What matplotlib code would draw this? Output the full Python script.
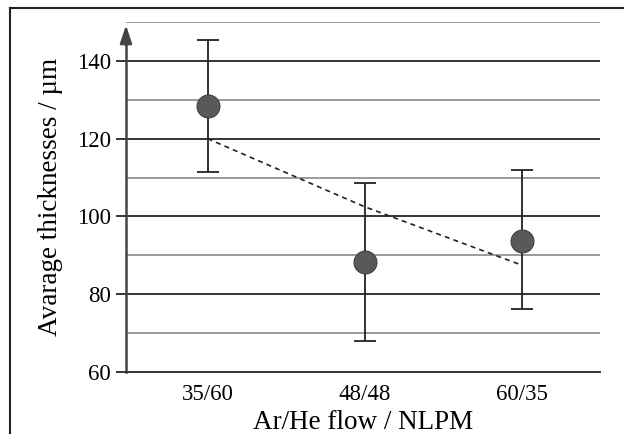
import numpy as np
import matplotlib.pyplot as plt
from matplotlib.lines import Line2D

plt.rcParams['font.family'] = ['Liberation Serif', 'DejaVu Serif']

# data
categories = ['35/60', '48/48', '60/35']
thickness = [128.4, 88.3, 93.7]
err_low = [17.0, 20.3, 17.5]
err_high = [17.0, 20.3, 18.2]
trend = [120.0, 102.5, 87.5]

x = np.arange(len(categories))

fig = plt.figure(figsize=(6.24, 4.34), dpi=100)
ax = fig.add_axes([126 / 624, 1 - 372 / 434, (600 - 126) / 624, (372 - 22) / 434])

ax.set_xlim(-0.52, 2.5)
ax.set_ylim(60, 150)

# grid lines: majors darker, minors lighter
for v in range(70, 151, 10):
    if v % 20 == 0:
        ax.axhline(v, color='#333333', lw=1.4, zorder=1)
    else:
        ax.axhline(v, color='#8a8a8a', lw=1.2, zorder=1)

ax.errorbar(x, thickness, yerr=[err_low, err_high], fmt='none',
            ecolor='#222222', elinewidth=1.3, capsize=8, capthick=1.3, zorder=3)
ax.plot(x, trend, linestyle=(0, (3, 2.5)), color='#222222', lw=1.2, zorder=3)
ax.plot(x, thickness, 'o', ms=16.5, color='#595959', mec='#404040', mew=0.8, zorder=4)

for s in ['top', 'right']:
    ax.spines[s].set_visible(False)
ax.spines['left'].set_color('#444444')
ax.spines['left'].set_linewidth(1.8)
ax.spines['left'].set_bounds(60, 146)
ax.spines['bottom'].set_color('#333333')
ax.spines['bottom'].set_linewidth(1.4)

# arrow on top of y axis
ax.annotate('', xy=(0, 149.2), xycoords=('axes fraction', 'data'), xytext=(0, 144),
            arrowprops=dict(arrowstyle='-|>,head_length=0.6,head_width=0.2',
                            color='#444444', lw=1.8, mutation_scale=18,
                            shrinkA=0, shrinkB=0),
            annotation_clip=False, zorder=5)

ax.set_yticks([60, 80, 100, 120, 140])
ax.tick_params(axis='y', length=7, width=1.4, color='#333333', labelsize=16.5, pad=4)
ax.set_xticks(x)
ax.set_xticklabels(categories)
ax.tick_params(axis='x', length=0, labelsize=16.5, pad=9)

ax.set_ylabel('Avarage thicknesses / µm', fontsize=19.5, labelpad=10)
ax.set_xlabel('Ar/He flow / NLPM', fontsize=19.5, labelpad=3)

# picture frame
fig.add_artist(Line2D([10 / 624, 10 / 624], [0, 1 - 8 / 434], color='#222222', lw=1.5))
fig.add_artist(Line2D([10 / 624, 1], [1 - 8 / 434, 1 - 8 / 434], color='#222222', lw=1.5))

fig.savefig('out.png', dpi=100)
